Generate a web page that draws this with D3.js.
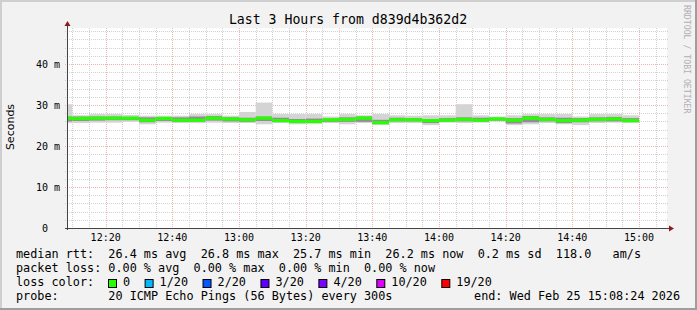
<html>
<head>
  <script src="https://d3js.org/d3.v7.min.js"></script>
  <style>
    body { margin: 0; background: #fff; }
    text { font-family: "DejaVu Sans Mono", monospace; fill: #000; white-space: pre; }
  </style>
</head>
<body>
<svg id="chart" width="697" height="310"></svg>
<script>
  // 5 minute bins, values in ms (20 pings each)
  const rttMin  = [25.6,25.6,25.7,25.7,25.9,25.3,25.7,25.6,25.6,25.7,25.6,25.6,25.3,25.6,25.3,25.4,25.6,25.3,25.6,25.1,25.6,25.6,25.1,25.7,25.6,25.7,26.0,25.1,25.3,25.6,25.3,25.1,25.6,25.7,25.6];
  const rttLow  = [26.0,26.1,26.2,26.3,26.3,25.8,26.1,25.9,26.0,26.2,26.0,25.9,26.1,25.9,25.6,25.7,25.9,25.9,25.9,25.4,26.0,26.0,25.6,26.0,26.0,26.0,26.2,25.5,25.8,26.0,25.6,25.8,26.0,26.0,25.9];
  const rttMed  = [26.8,26.7,26.8,26.8,26.8,26.3,26.7,26.3,26.3,26.8,26.6,26.4,26.8,26.2,26.0,26.0,26.4,26.5,26.8,25.7,26.4,26.4,26.2,26.3,26.5,26.3,26.6,26.3,26.8,26.5,26.2,26.3,26.5,26.6,26.2];
  const rttHigh = [27.2,27.2,27.2,27.2,27.1,27.0,27.1,27.0,27.2,27.3,27.0,26.9,27.2,26.9,26.6,26.7,26.7,27.0,27.2,26.4,26.9,26.8,26.6,26.8,27.0,26.9,26.9,26.8,27.3,27.0,26.9,26.8,27.0,27.1,26.8];
  const rttMax  = [30.2,27.5,27.8,27.8,27.6,27.4,27.4,27.4,27.8,27.8,27.4,28.3,30.6,27.8,27.8,27.8,27.2,27.8,27.5,27.8,27.5,27.4,27.5,27.5,30.2,27.5,27.2,27.5,27.8,27.8,27.8,27.2,27.8,27.8,27.5];

  const yTicks = [0, 10, 20, 30, 40];
  const yTickLabels = ["0  ", "10 m", "20 m", "30 m", "40 m"];

  const lossLabels = ["0", "1/20", "2/20", "3/20", "4/20", "10/20", "19/20"];
  const lossColors = ["#26ff00", "#00b8ff", "#0059ff", "#5e00ff", "#7e00ff", "#dd00ff", "#ff0000"];

  const titleText = "Last 3 Hours from d839d4b362d2";
  const legendLine1 = "median rtt:  26.4 ms avg  26.8 ms max  25.7 ms min  26.2 ms now  0.2 ms sd  118.0   am/s";
  const legendLine2 = "packet loss: 0.00 % avg  0.00 % max  0.00 % min  0.00 % now";
  const probeText = "probe:       20 ICMP Echo Pings (56 Bytes) every 300s";
  const endText = "end: Wed Feb 25 15:08:24 2026";

  const tStart = new Date(Date.UTC(2026, 1, 25, 12, 8, 24));
  const tEnd = new Date(Date.UTC(2026, 1, 25, 15, 8, 24));
  const binStart = d3.utcMinute.every(5).range(new Date(Date.UTC(2026, 1, 25, 12, 5)), new Date(Date.UTC(2026, 1, 25, 15, 0)));

  const svg = d3.select("svg#chart");
  const W = 697, H = 310;
  const plot = { left: 67, right: 667, top: 28, bottom: 228 };

  // background + 3d frame
  svg.append("rect").attr("width", W).attr("height", H).attr("fill", "#f2f2f2");
  svg.append("path").attr("d", `M0,0 H${W} V2 H2 V${H} H0 Z`).attr("fill", "#cfcfcf");
  svg.append("path").attr("d", `M${W},${H} H0 V${H - 2} H${W - 2} V0 H${W} Z`).attr("fill", "#9e9e9e");

  svg.append("rect")
    .attr("x", plot.left).attr("y", plot.top)
    .attr("width", plot.right - plot.left).attr("height", plot.bottom - plot.top)
    .attr("fill", "#ffffff");

  const x = d3.scaleUtc().domain([tStart, tEnd]).range([plot.left, plot.right]);
  const y = d3.scaleLinear().domain([0, 48.8]).range([plot.bottom, plot.top]);

  // grid
  const minorY = d3.range(2, 49, 2).filter(v => v % 10 !== 0);
  const majorY = yTicks.slice(1);
  const minorX = d3.utcMinute.every(5).range(tStart, tEnd).filter(d => d.getUTCMinutes() % 20 !== 0);
  const majorX = d3.utcMinute.every(20).range(tStart, tEnd);

  const grid = svg.append("g");
  minorY.forEach(v => {
    grid.append("line").attr("x1", plot.left - 2).attr("x2", plot.right + 2)
      .attr("y1", Math.round(y(v)) + 0.5).attr("y2", Math.round(y(v)) + 0.5)
      .style("stroke", "#d2d2d2").style("stroke-dasharray", "1,1");
  });
  minorX.forEach(d => {
    grid.append("line").attr("x1", Math.round(x(d)) + 0.5).attr("x2", Math.round(x(d)) + 0.5)
      .attr("y1", plot.top).attr("y2", plot.bottom + 2)
      .style("stroke", "#d2d2d2").style("stroke-dasharray", "1,1");
  });
  majorY.forEach(v => {
    grid.append("line").attr("x1", plot.left - 2).attr("x2", plot.right + 2)
      .attr("y1", Math.round(y(v)) + 0.5).attr("y2", Math.round(y(v)) + 0.5)
      .style("stroke", "#edb3b3").style("stroke-dasharray", "1,1");
  });
  majorX.forEach(d => {
    grid.append("line").attr("x1", Math.round(x(d)) + 0.5).attr("x2", Math.round(x(d)) + 0.5)
      .attr("y1", plot.top).attr("y2", plot.bottom + 2)
      .style("stroke", "#edb3b3").style("stroke-dasharray", "1,1");
  });

  // smoke + median
  svg.append("clipPath").attr("id", "clip")
    .append("rect").attr("x", plot.left).attr("y", plot.top)
    .attr("width", plot.right - plot.left).attr("height", plot.bottom - plot.top);
  const data = svg.append("g").attr("clip-path", "url(#clip)");

  binStart.forEach((t, i) => {
    const x0 = x(t), x1 = x(d3.utcMinute.offset(t, 5));
    data.append("rect").attr("x", x0).attr("width", x1 - x0)
      .attr("y", y(rttMax[i])).attr("height", y(rttMin[i]) - y(rttMax[i]))
      .attr("fill", "#d4d4d4");
    data.append("rect").attr("x", x0).attr("width", x1 - x0)
      .attr("y", y(rttHigh[i])).attr("height", y(rttLow[i]) - y(rttHigh[i]))
      .attr("fill", "#8f8f8f");
    data.append("rect").attr("x", x0).attr("width", x1 - x0)
      .attr("y", y(rttMed[i]) - 1.6).attr("height", 3.2)
      .attr("fill", lossColors[0]);
  });

  // axes
  svg.append("line").attr("x1", plot.left + 0.5).attr("x2", plot.left + 0.5)
    .attr("y1", plot.bottom + 2).attr("y2", plot.top - 4)
    .style("stroke", "#444").style("stroke-width", 1);
  svg.append("line").attr("x1", plot.left - 2).attr("x2", plot.right + 4)
    .attr("y1", plot.bottom + 0.5).attr("y2", plot.bottom + 0.5)
    .style("stroke", "#444").style("stroke-width", 1);
  svg.append("path").attr("d", `M${plot.left + 0.5},${plot.top - 7} L${plot.left - 2.5},${plot.top - 2} L${plot.left + 3.5},${plot.top - 2} Z`)
    .attr("fill", "#8b1c1c");
  svg.append("path").attr("d", `M${plot.right + 7},${plot.bottom + 0.5} L${plot.right + 2},${plot.bottom - 2.5} L${plot.right + 2},${plot.bottom + 3.5} Z`)
    .attr("fill", "#8b1c1c");

  // tick labels
  yTicks.forEach((v, i) => {
    svg.append("text").attr("x", 60).attr("y", y(v) + 4)
      .attr("text-anchor", "end").style("font-size", "10px")
      .text(yTickLabels[i]);
  });
  majorX.forEach(d => {
    svg.append("text").attr("x", x(d)).attr("y", 241)
      .attr("text-anchor", "middle").style("font-size", "10px")
      .text(d3.utcFormat("%H:%M")(d));
  });

  // titles
  svg.append("text").attr("x", 348).attr("y", 24).attr("text-anchor", "middle")
    .style("font-size", "13.2px").text(titleText);
  svg.append("text").attr("transform", "translate(14,127) rotate(-90)")
    .attr("text-anchor", "middle")
    .style("font-family", "'DejaVu Sans', sans-serif").style("font-size", "11px")
    .text("Seconds");
  svg.append("text").attr("transform", "translate(684,5) rotate(90)")
    .style("font-size", "8.2px").style("fill", "#b0b0b0")
    .text("RRDTOOL / TOBI OETIKER");

  // legend
  const lf = "11.8px";
  svg.append("text").attr("x", 16).attr("y", 258).style("font-size", lf).text(legendLine1);
  svg.append("text").attr("x", 16).attr("y", 272).style("font-size", lf).text(legendLine2);
  svg.append("text").attr("x", 16).attr("y", 286).style("font-size", lf).text("loss color:");
  let lx = 108.5;
  lossLabels.forEach((lab, i) => {
    svg.append("rect").attr("x", lx).attr("y", 279.5).attr("width", 8).attr("height", 8)
      .attr("fill", lossColors[i]).attr("stroke", "#000").attr("stroke-width", 1);
    const t = svg.append("text").attr("x", lx + 14.5).attr("y", 286).style("font-size", lf).text(lab);
    lx = lx + 14.5 + t.node().getComputedTextLength() + 15;
  });
  svg.append("text").attr("x", 16).attr("y", 300).style("font-size", lf).text(probeText);
  svg.append("text").attr("x", 680).attr("y", 300).attr("text-anchor", "end").style("font-size", lf).text(endText);
</script>
</body>
</html>
